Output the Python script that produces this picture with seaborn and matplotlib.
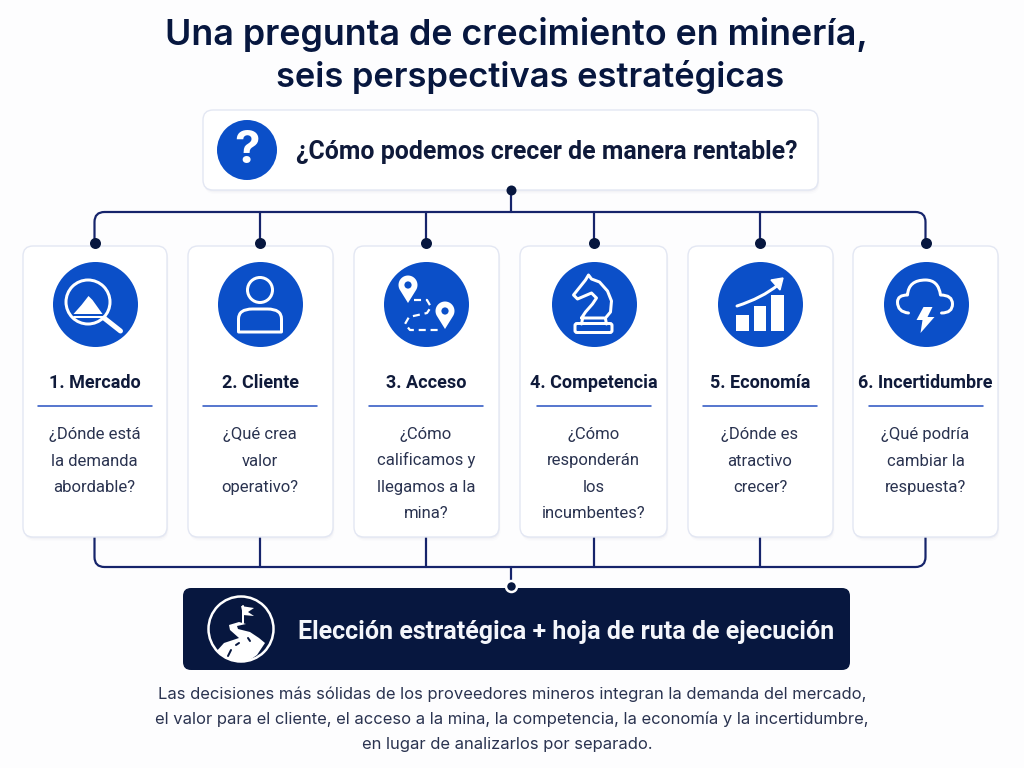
import numpy as np
import pandas as pd
import matplotlib
matplotlib.use('Agg')
from matplotlib import pyplot as plt
from matplotlib.patches import FancyBboxPatch, Circle, Polygon, PathPatch, Rectangle
from matplotlib.path import Path
import seaborn as sns

title_lines = ["Una pregunta de crecimiento en minería,", "seis perspectivas estratégicas"]
top_question = "¿Cómo podemos crecer de manera rentable?"
card_titles = ["1. Mercado", "2. Cliente", "3. Acceso", "4. Competencia", "5. Economía", "6. Incertidumbre"]
card_questions = [
    ["¿Dónde está", "la demanda", "abordable?"],
    ["¿Qué crea", "valor", "operativo?"],
    ["¿Cómo", "calificamos y", "llegamos a la", "mina?"],
    ["¿Cómo", "responderán", "los", "incumbentes?"],
    ["¿Dónde es", "atractivo", "crecer?"],
    ["¿Qué podría", "cambiar la", "respuesta?"],
]
bottom_label = "Elección estratégica + hoja de ruta de ejecución"
footer_lines = [
    "Las decisiones más sólidas de los proveedores mineros integran la demanda del mercado,",
    "el valor para el cliente, el acceso a la mina, la competencia, la economía y la incertidumbre,",
    "en lugar de analizarlos por separado.",
]

NAVY = "#07173f"
BLUE = "#0b4fc8"
LINE = "#16246b"
TEXT = "#0f1a3a"
BODY = "#2a3350"
RULE = "#3159c4"
BORDER = "#e3e7f3"

card_left = [23, 188, 354, 520, 688, 853]
card_right = [167, 333, 499, 667, 833, 998]
card_cx = [94.5, 260, 426, 593.5, 760, 925.5]

sns.set_theme(style="white")
plt.rcParams['font.family'] = ['Inter', 'DejaVu Sans']
NARROW = ['Roboto', 'DejaVu Sans']

fig = plt.figure(figsize=(10.24, 7.68), dpi=100, facecolor="#fdfdfe")
ax = fig.add_axes([0, 0, 1, 1])
ax.set_xlim(0, 1024)
ax.set_ylim(768, 0)
ax.axis('off')


def px(v):
    return v * 0.72


def rounded_box(x0, y0, x1, y1, r, fc, ec, lw=1.0, z=2, shadow=True):
    if shadow:
        for off, alpha in [(4, 0.012), (2.5, 0.02), (1.2, 0.03)]:
            ax.add_patch(FancyBboxPatch((x0 + r + off * 0.4, y0 + r + off), x1 - x0 - 2 * r, y1 - y0 - 2 * r,
                                        boxstyle="round,pad=%f,rounding_size=%f" % (r, r),
                                        fc="#1a2a5a", ec="none", alpha=alpha, zorder=z - 0.5))
    ax.add_patch(FancyBboxPatch((x0 + r, y0 + r), x1 - x0 - 2 * r, y1 - y0 - 2 * r,
                                boxstyle="round,pad=%f,rounding_size=%f" % (r, r),
                                fc=fc, ec=ec, lw=lw, zorder=z))


def stroke(points, lw=2.2, color="white", z=6, closed=False, **kw):
    pts = np.array(points, dtype=float)
    if closed:
        pts = np.vstack([pts, pts[:1]])
    ax.plot(pts[:, 0], pts[:, 1], color=color, lw=px(lw), zorder=z,
            solid_capstyle='round', solid_joinstyle='round', **kw)


def curve(verts, codes, lw=2.2, fc="none", ec="white", z=6, **kw):
    return ax.add_patch(PathPatch(Path(verts, codes), fc=fc, ec=ec, lw=px(lw), zorder=z,
                                  capstyle='round', joinstyle='round', **kw))


def pin(cx, cy, tip_y):
    r = 9.5
    angles = np.linspace(np.radians(-30), np.radians(210), 30)
    arc = [(cx + r * np.cos(a), cy - r * np.sin(a)) for a in angles]
    ax.add_patch(Polygon(arc + [(cx, tip_y)], fc="white", ec="none", zorder=6))
    ax.add_patch(Circle((cx, cy), 3.6, fc=BLUE, ec="none", zorder=7))


def icon_market(cx, cy):
    lx, ly = cx - 6.5, cy - 2
    ax.add_patch(Circle((lx, ly), 22, fc="none", ec="white", lw=px(3), zorder=6))
    ax.add_patch(Polygon([(cx - 21, cy + 10), (cx - 13, cy + 1), (cx - 6, cy - 8), (cx - 2, cy - 4),
                          (cx + 8, cy + 10)], fc="white", ec="none", zorder=6))
    stroke([(cx - 21, cy + 13), (cx + 8, cy + 13)], lw=2)
    stroke([(lx + 16, ly + 16), (cx + 26, cy + 27)], lw=5)


def icon_client(cx, cy):
    ax.add_patch(Circle((cx, cy - 14), 12.5, fc="none", ec="white", lw=px(3), zorder=6))
    x0, x1, y0, y1 = cx - 21.5, cx + 21.5, cy + 5, cy + 28
    verts = [(x0, y1), (x0, y0 + 10), (x0, y0), (x0 + 14, y0), (x1 - 14, y0), (x1, y0), (x1, y0 + 10),
             (x1, y1), (x0, y1)]
    codes = [Path.MOVETO, Path.LINETO, Path.CURVE3, Path.CURVE3, Path.LINETO, Path.CURVE3, Path.CURVE3,
             Path.LINETO, Path.CLOSEPOLY]
    curve(verts, codes, lw=3)


def icon_access(cx, cy):
    route = [(cx - 12, cy - 4), (cx + 1, cy - 4), (cx + 5, cy + 3), (cx + 1, cy + 9), (cx - 17, cy + 13),
             (cx - 21, cy + 20), (cx - 16, cy + 26), (cx + 16, cy + 26)]
    ax.plot(*zip(*route), color="white", lw=px(2.2), ls=(0, (3.2, 2.2)), zorder=6)
    pin(cx - 18, cy - 19, cy - 1)
    pin(cx + 19, cy + 7, cy + 25)


def icon_competition(cx, cy):
    body = [(-12, 14), (-8, 8), (-1, 0), (3, -6), (-2, -11), (-16, -5), (-20, -9), (-8, -24), (-5, -29),
            (-2, -25), (6, -22), (14, -13), (18, -3), (17, 8), (12, 14)]
    stroke([(cx + a, cy + b) for a, b in body], lw=3, closed=True)
    ax.add_patch(FancyBboxPatch((cx - 17, cy + 21), 34, 6, boxstyle="round,pad=1.5,rounding_size=2",
                                fc="none", ec="white", lw=px(3), zorder=6))
    stroke([(cx - 11, cy + 15), (cx - 12, cy + 20)], lw=3)
    stroke([(cx + 12, cy + 15), (cx + 13, cy + 20)], lw=3)


def icon_economy(cx, cy):
    for a, h in zip([-24, -6.5, 11], [16, 25, 36]):
        ax.add_patch(Rectangle((cx + a, cy + 27 - h), 12.5, h, fc="white", ec="none", zorder=6))
    verts = [(cx - 23, cy + 2), (cx + 2, cy - 6), (cx + 18, cy - 19)]
    curve(verts, [Path.MOVETO, Path.CURVE3, Path.CURVE3], lw=3)
    ax.add_patch(Polygon([(cx + 11, cy - 24), (cx + 23, cy - 26), (cx + 20, cy - 14)],
                         fc="white", ec="white", lw=1, zorder=6))


def icon_uncertainty(cx, cy):
    verts = [(cx - 17, cy + 9), (cx - 28, cy + 8), (cx - 28, cy - 2), (cx - 28, cy - 9), (cx - 18, cy - 9),
             (cx - 17, cy - 24), (cx, cy - 24), (cx + 13, cy - 24), (cx + 15, cy - 9),
             (cx + 27, cy - 9), (cx + 27, cy), (cx + 27, cy + 9), (cx + 16, cy + 9)]
    codes = [Path.MOVETO, Path.CURVE3, Path.CURVE3, Path.CURVE3, Path.CURVE3,
             Path.CURVE3, Path.CURVE3, Path.CURVE3, Path.CURVE3,
             Path.CURVE3, Path.CURVE3, Path.CURVE3, Path.CURVE3]
    curve(verts, codes, lw=3)
    bolt = [(-2, 3), (-9, 16), (-3, 16), (-5, 29), (9, 13), (2, 13), (7, 3)]
    ax.add_patch(Polygon([(cx + a, cy + b) for a, b in bolt], fc="white", ec="none", zorder=6))


def icon_road(cx, cy):
    ring = Circle((cx, cy), 32.5, fc="none", ec="white", lw=px(2.5), zorder=6)
    ax.add_patch(ring)
    hill = [(-26, 24), (-17, 14), (-2, 9), (-11, 1), (-12, -4), (-2, -7), (5, -5), (-4, -3), (-3, 0),
            (9, 3), (18, 9), (24, 14), (16, 26), (6, 33), (-7, 34), (-19, 31)]
    hp = Polygon([(cx + a, cy + b) for a, b in hill], fc="white", ec="none", zorder=6)
    ax.add_patch(hp)
    hp.set_clip_path(ring)
    stroke([(cx + 2, cy - 23), (cx + 2, cy - 6)], lw=2)
    flag = [(cx, cy - 23), (cx + 13, cy - 21), (cx + 7, cy - 17), (cx + 13, cy - 13), (cx + 2, cy - 14)]
    ax.add_patch(Polygon(flag, fc="white", ec="none", zorder=6))
    stroke([(cx - 13, cy + 27), (cx - 10, cy + 21)], lw=2, color=NAVY, z=7)
    stroke([(cx - 5, cy + 16), (cx - 2, cy + 14)], lw=2, color=NAVY, z=7)
    stroke([(cx + 7, cy + 9), (cx + 9, cy + 12)], lw=2, color=NAVY, z=7)


# title
for text, x, y, size in zip(title_lines, [516.5, 530.5], [45, 87], [25.8, 24.8]):
    ax.text(x, y, text, ha='center', va='baseline', fontsize=size, fontweight='semibold', color=NAVY)

# top box
rounded_box(203, 110, 818, 190, 10, "white", BORDER)
ax.add_patch(Circle((247, 150), 30, fc=BLUE, ec="none", zorder=4))
ax.text(247, 151, "?", ha='center', va='center', fontsize=33, fontweight='bold', color="white", zorder=6)
ax.text(547, 159, top_question, ha='center', va='baseline', fontsize=17.9, fontweight='semibold',
        family=NARROW, color=TEXT, zorder=6)

# connectors
r = 10
xl, xr = card_cx[0], card_cx[-1]
conn = [(xl, 243), (xl, 212 + r), (xl, 212), (xl + r, 212), (xr - r, 212), (xr, 212), (xr, 212 + r), (xr, 243)]
codes = [Path.MOVETO, Path.LINETO, Path.CURVE3, Path.CURVE3, Path.LINETO, Path.CURVE3, Path.CURVE3, Path.LINETO]
curve(conn, codes, lw=2.2, ec=LINE, z=1)
conn = [(xl, 537), (xl, 567 - r), (xl, 567), (xl + r, 567), (xr - r, 567), (xr, 567), (xr, 567 - r), (xr, 537)]
curve(conn, codes, lw=2.2, ec=LINE, z=1)
for cx in card_cx[1:-1]:
    ax.plot([cx, cx], [212, 243], color=LINE, lw=px(2.2), zorder=1)
    ax.plot([cx, cx], [537, 567], color=LINE, lw=px(2.2), zorder=1)
ax.plot([511, 511], [190, 212], color=LINE, lw=px(2.2), zorder=1)
ax.plot([511, 511], [567, 586], color=LINE, lw=px(2.2), zorder=1)

# cards
icons = [icon_market, icon_client, icon_access, icon_competition, icon_economy, icon_uncertainty]
for i, name in enumerate(card_titles):
    x0, x1, cx = card_left[i], card_right[i], card_cx[i]
    rounded_box(x0, 246, x1, 537, 10, "white", BORDER)
    icons[i](cx, 304)
    ax.text(cx, 388, name, ha='center', va='baseline', fontsize=13, fontweight='semibold',
            family=NARROW, color=TEXT, zorder=6)
    ax.plot([cx - 57, cx + 57], [406, 406], color=RULE, lw=px(1.6), zorder=6)
    for j, line in enumerate(card_questions[i]):
        ax.text(cx, 439 + j * 26.5, line, ha='center', va='baseline', fontsize=12,
                family=NARROW, color=BODY, zorder=6)

# bottom box
rounded_box(183, 588, 850, 670, 8, NAVY, "none", lw=0, shadow=False)
icon_road(241, 629)
ax.text(566.5, 639, bottom_label, ha='center', va='baseline', fontsize=18, fontweight='semibold',
        family=NARROW, color="#f4f6fb", zorder=6)

# dots drawn from the card centres
nodes = pd.DataFrame({"x": card_cx, "y": [243] * 6})
sns.scatterplot(data=nodes, x="x", y="y", s=px(11) ** 2, color=NAVY, linewidth=0, zorder=5, ax=ax, legend=False)
badges = pd.DataFrame({"x": card_cx, "y": [304] * 6})
sns.scatterplot(data=badges, x="x", y="y", s=px(85) ** 2, color=BLUE, linewidth=0, zorder=4, ax=ax, legend=False)
sns.scatterplot(x=[511], y=[190], s=px(10) ** 2, color=NAVY, linewidth=0, zorder=5, ax=ax, legend=False)
sns.scatterplot(x=[511], y=[586], s=px(11) ** 2, color=NAVY, edgecolor="white", linewidth=px(2.5), zorder=5, ax=ax, legend=False)

ax.set_xlim(0, 1024)
ax.set_ylim(768, 0)
ax.axis('off')

# footer
for text, x, y in zip(footer_lines, [512, 512, 507], [699, 724, 749]):
    ax.text(x, y, text, ha='center', va='baseline', fontsize=11.95, color=BODY)

fig.savefig("out.png", dpi=100, facecolor=fig.get_facecolor())
plt.close(fig)
